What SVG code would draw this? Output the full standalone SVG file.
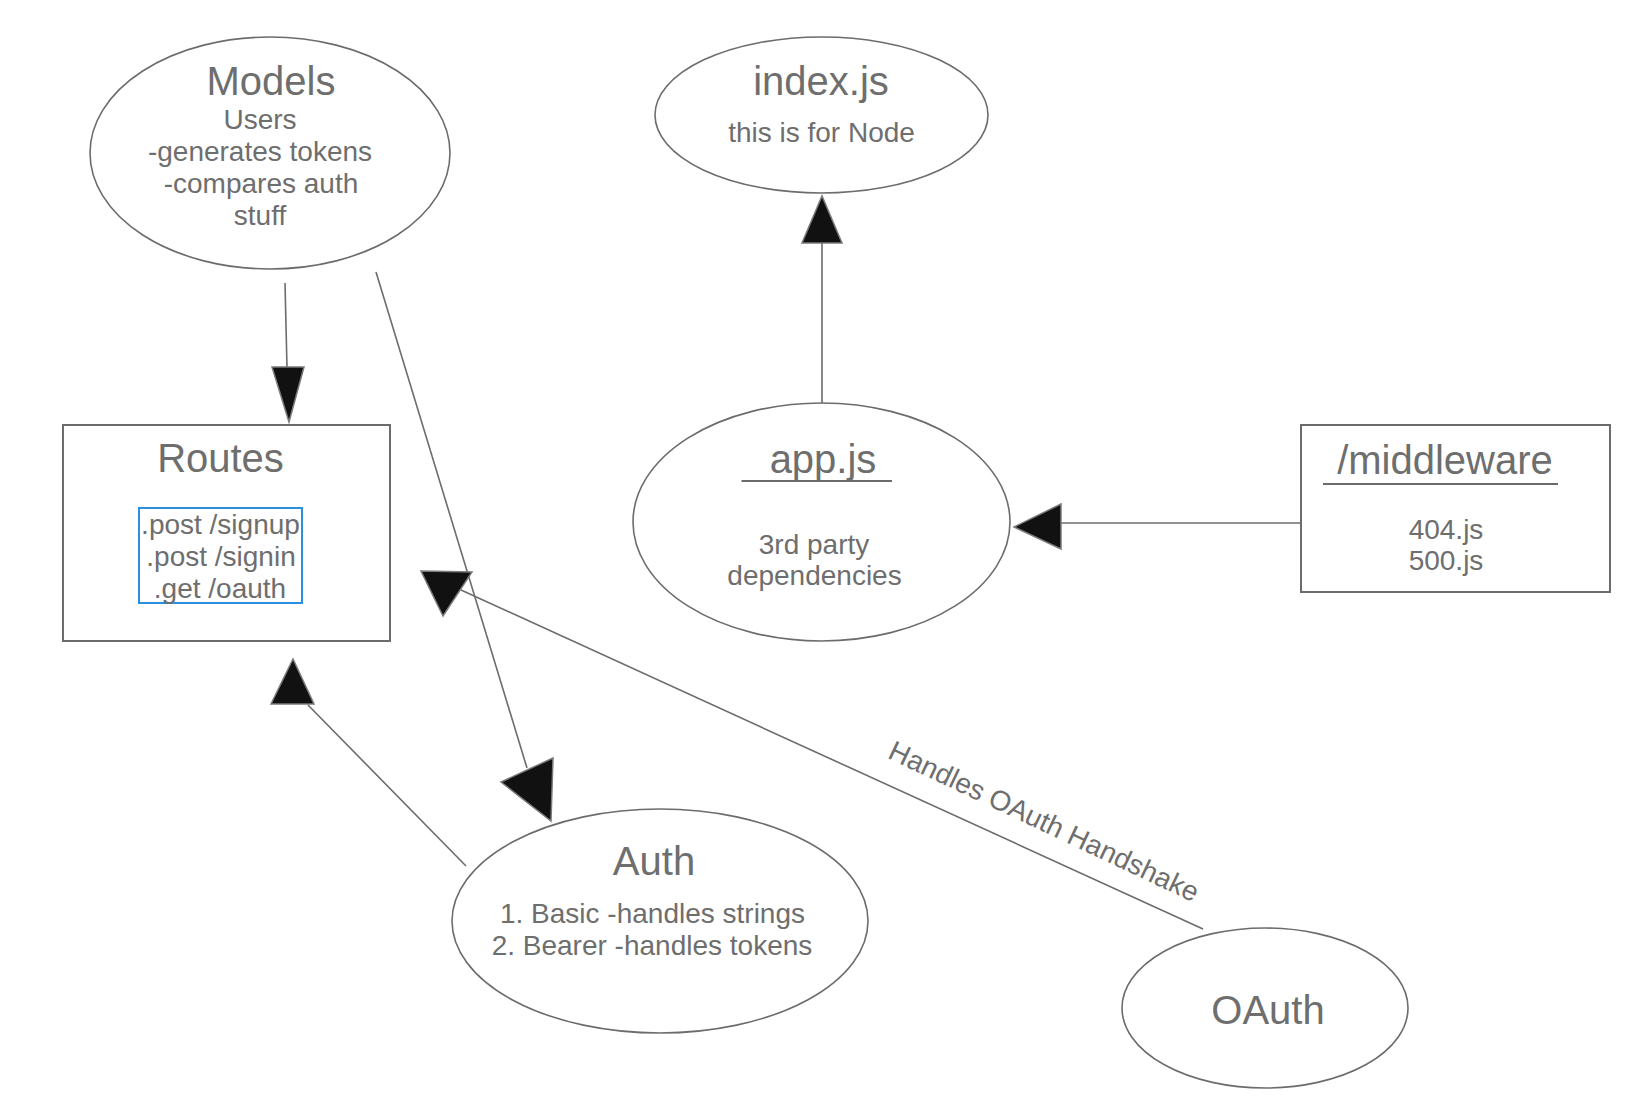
<svg xmlns="http://www.w3.org/2000/svg" width="1644" height="1108" viewBox="0 0 1644 1108">
<style>
  .shape { fill: #ffffff; stroke: #6c6c6c; stroke-width: 1.6; }
  .box { fill: #ffffff; stroke: #6c6c6c; stroke-width: 2; }
  .edge { fill: none; stroke: #6c6c6c; stroke-width: 1.6; }
  .head { fill: #111111; stroke: #7a7a7a; stroke-width: 1.5; stroke-linejoin: miter; }
  .title { font-family: "Liberation Sans", Arial, sans-serif; font-size: 40px; fill: #6e6e6e; text-anchor: middle; }
  .body { font-family: "Liberation Sans", Arial, sans-serif; font-size: 28px; fill: #6e6e6e; text-anchor: middle; }
  .ul { stroke: #6c6c6c; stroke-width: 2; }
</style>
<rect width="1644" height="1108" fill="#ffffff"/>

<g id="connectors">
  <!-- Models -> Routes -->
  <line class="edge" x1="285" y1="283" x2="287" y2="368"/>
  <polygon class="head" points="272,367 304,367 289,422"/>
  <!-- Models -> Auth -->
  <line class="edge" x1="376" y1="272" x2="527" y2="768"/>
  <polygon class="head" points="501,782 553,758 551,821"/>
  <!-- app.js -> index.js -->
  <line class="edge" x1="822" y1="403" x2="822" y2="243"/>
  <polygon class="head" points="802,243 842,243 822,196"/>
  <!-- middleware -> app.js -->
  <line class="edge" x1="1301" y1="523" x2="1061" y2="523"/>
  <polygon class="head" points="1061,504 1061,549 1014,527"/>
  <!-- Auth -> Routes -->
  <line class="edge" x1="466" y1="866" x2="308" y2="705"/>
  <polygon class="head" points="271,704 314,704 293,659"/>
  <!-- OAuth -> Routes -->
  <line class="edge" x1="1203" y1="929" x2="461" y2="590"/>
  <polygon class="head" points="421,571 472,572 443,616"/>
  <text class="body" transform="translate(1040,830) rotate(25.3)">Handles OAuth Handshake</text>
</g>

<g id="models">
  <ellipse class="shape" cx="270" cy="153" rx="180" ry="116"/>
  <text class="title" x="271" y="95">Models</text>
  <text class="body" x="260" y="129">Users</text>
  <text class="body" x="260" y="161">-generates tokens</text>
  <text class="body" x="261" y="193">-compares auth</text>
  <text class="body" x="260" y="225">stuff</text>
</g>

<g id="index">
  <ellipse class="shape" cx="821.5" cy="115" rx="166.5" ry="78"/>
  <text class="title" x="821" y="95">index.js</text>
  <text class="body" x="821.5" y="142">this is for Node</text>
</g>

<g id="routes">
  <rect class="box" x="63" y="425" width="327" height="216"/>
  <text class="title" x="220.5" y="472">Routes</text>
  <rect x="139" y="508" width="163" height="95" fill="none" stroke="#2a8fdc" stroke-width="2"/>
  <text class="body" x="220.5" y="534">.post /signup</text>
  <text class="body" x="221" y="566">.post /signin</text>
  <text class="body" x="220" y="598">.get /oauth</text>
</g>

<g id="app">
  <ellipse class="shape" cx="821.5" cy="522" rx="188.5" ry="119"/>
  <text class="title" x="823" y="473">app.js</text>
  <line class="ul" x1="741.5" y1="481" x2="892" y2="481"/>
  <text class="body" x="814" y="554">3rd party</text>
  <text class="body" x="814.5" y="585">dependencies</text>
</g>

<g id="middleware">
  <rect class="box" x="1301" y="425" width="309" height="167"/>
  <text class="title" x="1445" y="474">/middleware</text>
  <line class="ul" x1="1323" y1="484" x2="1558" y2="484"/>
  <text class="body" x="1446" y="539">404.js</text>
  <text class="body" x="1446" y="570">500.js</text>
</g>

<g id="auth">
  <ellipse class="shape" cx="660" cy="921" rx="208" ry="112"/>
  <text class="title" x="654" y="875">Auth</text>
  <text class="body" x="652.5" y="923">1. Basic -handles strings</text>
  <text class="body" x="652" y="955">2. Bearer -handles tokens</text>
</g>

<g id="oauth">
  <ellipse class="shape" cx="1265" cy="1008" rx="143" ry="80"/>
  <text class="title" x="1268" y="1024">OAuth</text>
</g>
</svg>
